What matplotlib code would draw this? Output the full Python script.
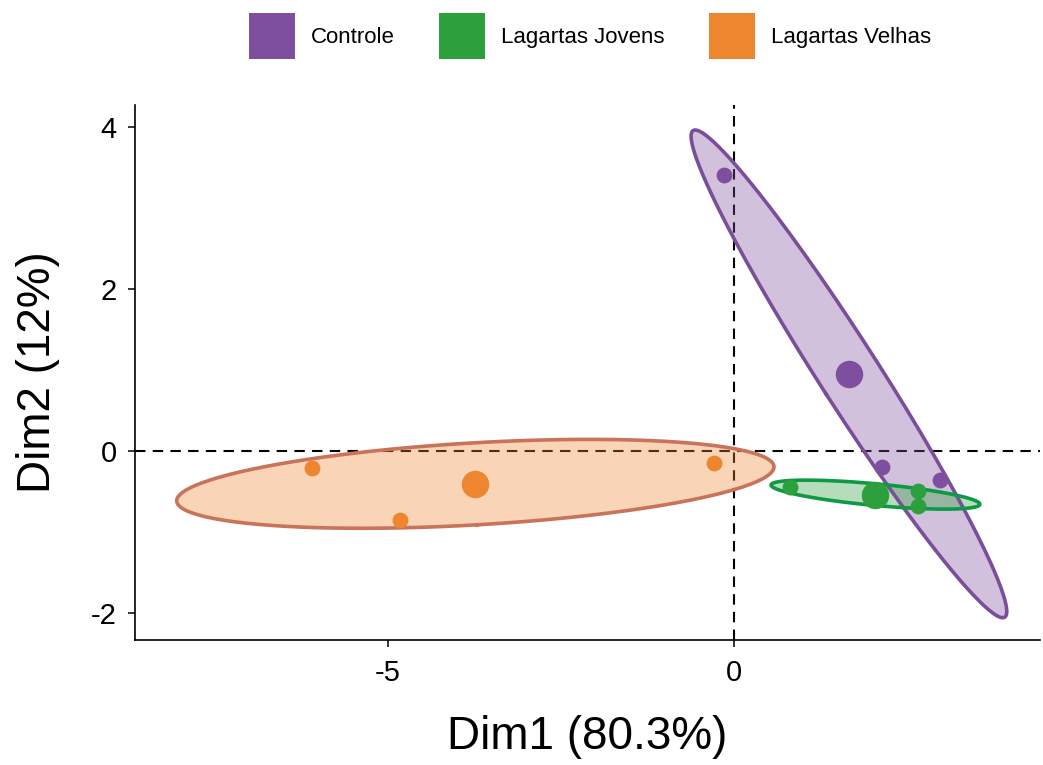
import numpy as np
import matplotlib.pyplot as plt
from matplotlib.patches import Patch

plt.rcParams['font.family'] = ['Liberation Sans', 'DejaVu Sans']
plt.rcParams['axes.unicode_minus'] = False

# PCA individual coordinates per group (Dim1, Dim2)
groups = ['Controle', 'Lagartas Jovens', 'Lagartas Velhas']
dim1_controle = [-0.14, 2.14, 2.98]
dim2_controle = [3.41, -0.20, -0.35]
dim1_jovens = [0.81, 2.66, 2.66]
dim2_jovens = [-0.44, -0.49, -0.68]
dim1_velhas = [-6.10, -4.83, -0.29]
dim2_velhas = [-0.21, -0.85, -0.15]

point_colors = ['#7E4F9E', '#2CA03C', '#EE862F']
edge_colors = ['#7B4E9A', '#0E9A44', '#C8735A']

data = [(dim1_controle, dim2_controle),
        (dim1_jovens, dim2_jovens),
        (dim1_velhas, dim2_velhas)]

fig = plt.figure(figsize=(10.43, 7.65), dpi=100)
ax = fig.add_axes([0.1294, 0.1634, 0.8676, 0.6993])


def conf_ellipse(x, y, level_chi2=-2 * np.log(0.05), npts=200):
    # confidence ellipse around the group barycentre
    x = np.asarray(x)
    y = np.asarray(y)
    n = len(x)
    cov = np.cov(x, y) / n
    vals, vecs = np.linalg.eigh(cov)
    t = np.linspace(0, 2 * np.pi, npts)
    circ = np.vstack([np.cos(t), np.sin(t)])
    pts = vecs @ (np.sqrt(vals * level_chi2)[:, None] * circ)
    return x.mean() + pts[0], y.mean() + pts[1]


for i, (xs, ys) in enumerate(data):
    ex, ey = conf_ellipse(xs, ys)
    ax.fill(ex, ey, color=point_colors[i], alpha=0.35, lw=0, zorder=2)
    ax.plot(ex, ey, color=edge_colors[i], lw=2.6, zorder=3)

ax.axhline(0, color='black', lw=1.5, ls=(0, (5, 3.5)), zorder=1)
ax.axvline(0, color='black', lw=1.5, ls=(0, (5, 3.5)), zorder=1)

for i, (xs, ys) in enumerate(data):
    ax.scatter(xs, ys, s=130, color=point_colors[i], lw=0, zorder=4)
    ax.scatter([np.mean(xs)], [np.mean(ys)], s=390, color=point_colors[i], lw=0, zorder=4)

ax.set_xlim(-8.66, 4.42)
ax.set_ylim(-2.33, 4.27)
ax.set_xticks([-5, 0])
ax.set_yticks([-2, 0, 2, 4])
ax.tick_params(labelsize=21, length=5, width=1.1, colors='black', pad=8)
ax.tick_params(axis='x', pad=9)
for s in ['top', 'right']:
    ax.spines[s].set_visible(False)
for s in ['left', 'bottom']:
    ax.spines[s].set_linewidth(1.2)

ax.set_xlabel('Dim1 (80.3%)', fontsize=33, labelpad=20)
ax.set_ylabel('Dim2 (12%)', fontsize=33, labelpad=22)

handles = [Patch(facecolor=c, edgecolor='none') for c in point_colors]
fig.legend(handles, groups, loc='center', bbox_to_anchor=(0.566, 0.953),
           ncol=3, frameon=False, fontsize=16, handlelength=2.07,
           handleheight=2.75, handletextpad=0.72, columnspacing=2.0)

fig.savefig('out.png', dpi=100)
